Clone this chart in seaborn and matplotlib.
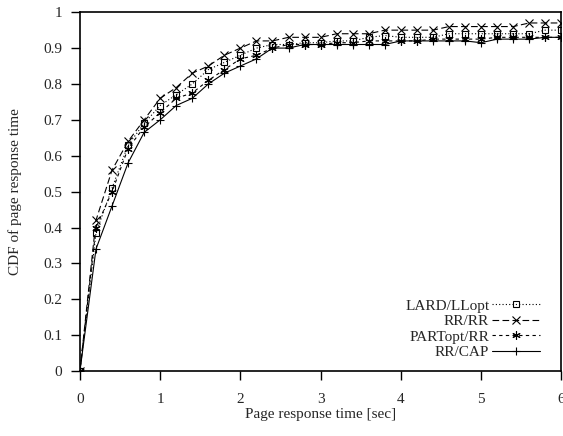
import numpy as np
import pandas as pd
import matplotlib
matplotlib.use("Agg")
import matplotlib.pyplot as plt
import seaborn as sns

# time points (sec)
time_sec = [0.0, 0.2, 0.4, 0.6, 0.8, 1.0, 1.2, 1.4, 1.6, 1.8, 2.0, 2.2, 2.4, 2.6, 2.8,
            3.0, 3.2, 3.4, 3.6, 3.8, 4.0, 4.2, 4.4, 4.6, 4.8, 5.0, 5.2, 5.4, 5.6, 5.8, 6.0]

lard_llopt = [0.0, 0.385, 0.51, 0.63, 0.69, 0.74, 0.77, 0.80, 0.84, 0.86, 0.88, 0.90, 0.91, 0.91, 0.915,
              0.915, 0.92, 0.92, 0.93, 0.935, 0.93, 0.93, 0.93, 0.94, 0.94, 0.94, 0.94, 0.94, 0.94, 0.95, 0.95]
rr_rr = [0.0, 0.42, 0.56, 0.64, 0.70, 0.76, 0.79, 0.83, 0.85, 0.88, 0.90, 0.92, 0.92, 0.93, 0.93,
         0.93, 0.94, 0.94, 0.94, 0.95, 0.95, 0.95, 0.95, 0.96, 0.96, 0.96, 0.96, 0.96, 0.97, 0.97, 0.97]
partopt_rr = [0.0, 0.40, 0.50, 0.62, 0.68, 0.72, 0.76, 0.775, 0.81, 0.84, 0.87, 0.88, 0.90, 0.91, 0.91,
              0.91, 0.915, 0.915, 0.92, 0.92, 0.92, 0.92, 0.925, 0.925, 0.925, 0.925, 0.93, 0.93, 0.93, 0.93, 0.93]
rr_cap = [0.0, 0.34, 0.46, 0.58, 0.665, 0.70, 0.74, 0.76, 0.80, 0.83, 0.85, 0.87, 0.90, 0.90, 0.91,
          0.91, 0.91, 0.91, 0.91, 0.91, 0.92, 0.92, 0.92, 0.92, 0.92, 0.915, 0.925, 0.925, 0.925, 0.93, 0.93]

series_names = ["LARD/LLopt", "RR/RR", "PARTopt/RR", "RR/CAP"]
series_values = [lard_llopt, rr_rr, partopt_rr, rr_cap]

x_ticks = [0, 1, 2, 3, 4, 5, 6]
y_ticks = [0, 0.1, 0.2, 0.3, 0.4, 0.5, 0.6, 0.7, 0.8, 0.9, 1]
y_tick_labels = ["0", "0.1", "0.2", "0.3", "0.4", "0.5", "0.6", "0.7", "0.8", "0.9", "1"]

sns.set_style("ticks")
plt.rcParams["font.family"] = ["Liberation Serif", "DejaVu Serif"]

fig = plt.figure(figsize=(5.63, 4.36), dpi=100)
ax = fig.add_axes([0.142, 0.149, 0.855, 0.823])

asterisk = (6, 2, 0)
marker_list = ["s", "x", asterisk, "+"]
dash_list = [(1, 2), (6, 3), (3, 3), None]
size_list = [5, 6, 6, 6]

for name, vals, mk, ds, ms in zip(series_names, series_values, marker_list, dash_list, size_list):
    df = pd.DataFrame({"t": time_sec, "cdf": vals})
    sns.lineplot(data=df, x="t", y="cdf", ax=ax, color="black", linewidth=0.8,
                 marker=mk, markersize=ms, markeredgewidth=0.8,
                 markerfacecolor="none", markeredgecolor="black", label=name)
    line = ax.get_lines()[-1]
    if ds is not None:
        line.set_dashes(ds)

fs = 11
ax.set_xlim(0, 6)
ax.set_ylim(0, 1)
ax.set_xticks(x_ticks)
ax.set_xticklabels([str(v) for v in x_ticks])
ax.set_yticks(y_ticks)
ax.set_yticklabels(y_tick_labels)
ax.tick_params(direction="out", length=6.5, width=1, labelsize=fs, color="black")
ax.tick_params(axis="x", pad=9)
ax.tick_params(axis="y", pad=6.5)
for s in ax.spines.values():
    s.set_linewidth(1.2)
    s.set_color("black")
    s.set_visible(True)
ax.set_xlabel("Page response time [sec]", fontsize=fs, labelpad=2)
ax.set_ylabel("CDF of page response time", fontsize=fs, labelpad=15)

handles, labels = ax.get_legend_handles_labels()
leg = ax.legend(handles, labels, loc="lower right", bbox_to_anchor=(0.966, 0.02),
                frameon=False, markerfirst=False, fontsize=fs, handlelength=3.15,
                labelspacing=0.12, handletextpad=0.2, borderpad=0.3, borderaxespad=0.0)

fig.savefig("out.png", dpi=100)
